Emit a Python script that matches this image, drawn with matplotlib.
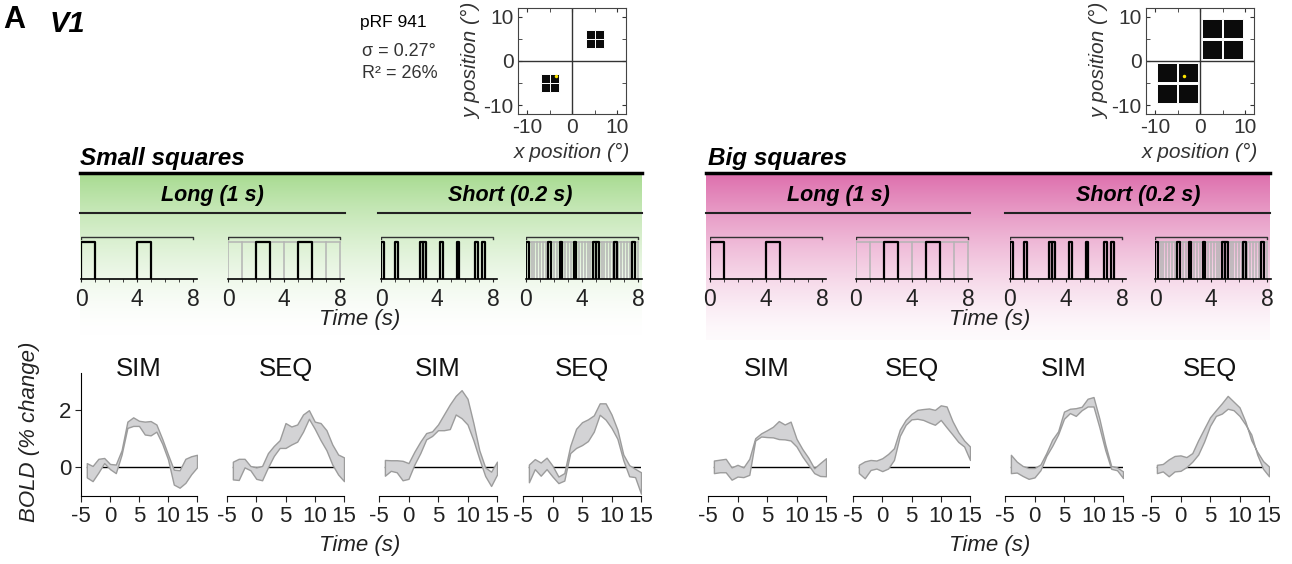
import numpy as np
import matplotlib
matplotlib.use("Agg")
import matplotlib.pyplot as plt
from matplotlib.patches import Rectangle

plt.rcParams['font.family'] = ['Liberation Sans', 'DejaVu Sans']
plt.rcParams['axes.unicode_minus'] = False

W, H = 1292, 564

# ---- data ----
# pRF / stimulus squares (deg)
small_sq_centers = [(4, 4), (6, 4), (4, 6), (6, 6), (-4, -4), (-6, -4), (-4, -6), (-6, -6)]
small_sq_size = 2.0
big_sq_centers = [(2.6, 2.6), (7.3, 2.6), (2.6, 7.3), (7.3, 7.3),
                  (-2.6, -2.6), (-7.3, -2.6), (-2.6, -7.3), (-7.3, -7.3)]
big_sq_size = 4.4
prf_center = (-3.5, -3.3)

# stimulus timing (s)
long_sim_on = [0, 4]
long_seq_on = [2, 5]
long_slots = [0, 1, 2, 3, 4, 5, 6, 7, 8]
short_sim_on = [0, 1.0, 2.8, 3.0, 4.2, 5.4, 6.7, 7.2]
short_seq_on = [0, 1.6, 2.4, 3.4, 4.8, 5.0, 6.3, 7.6]
short_slots = list(np.round(np.arange(0, 8.01, 0.2), 1))

# BOLD (% change), band upper / lower, t = -4..15 s
time = np.arange(-4, 16)
small_long_sim_hi = [0.15, 0.05, 0.3, 0.33, 0.12, 0.1, 0.6, 1.6, 1.75, 1.63, 1.6, 1.62, 1.5, 1.0, 0.45, -0.08, -0.1, 0.3, 0.39, 0.44]
small_long_sim_lo = [-0.35, -0.48, -0.18, 0.15, -0.06, -0.2, 0.45, 1.38, 1.45, 1.45, 1.15, 1.12, 1.25, 0.83, 0.28, -0.6, -0.71, -0.54, -0.24, 0.0]
small_long_seq_hi = [0.2, 0.3, 0.3, 0.05, 0.0, 0.05, 0.5, 0.75, 0.95, 1.55, 1.43, 1.5, 1.85, 2.0, 1.6, 1.55, 1.3, 0.8, 0.45, 0.35]
small_long_seq_lo = [-0.42, -0.44, 0.0, -0.1, -0.4, -0.45, 0.0, 0.4, 0.68, 0.68, 0.8, 0.9, 1.25, 1.7, 1.35, 0.95, 0.6, 0.1, -0.25, -0.48]
small_short_sim_hi = [0.26, 0.25, 0.25, 0.23, 0.15, 0.55, 0.9, 1.2, 1.26, 1.5, 1.85, 2.2, 2.5, 2.7, 2.4, 1.55, 0.6, 0.0, -0.15, 0.2]
small_short_sim_lo = [-0.29, -0.12, -0.17, -0.45, -0.4, 0.1, 0.5, 0.98, 1.1, 1.3, 1.3, 1.34, 1.85, 1.72, 1.5, 0.95, 0.3, -0.3, -0.65, -0.25]
small_short_seq_hi = [0.1, 0.29, 0.17, 0.34, 0.06, -0.32, -0.2, 0.75, 1.35, 1.58, 1.68, 1.82, 2.24, 2.24, 1.85, 1.32, 0.45, 0.08, -0.05, -0.17]
small_short_seq_lo = [-0.52, -0.06, -0.29, -0.06, -0.32, -0.55, -0.46, 0.5, 0.68, 0.78, 0.92, 1.25, 1.84, 1.67, 1.38, 1.0, 0.25, -0.31, -0.34, -0.92]
big_long_sim_hi = [0.24, 0.27, 0.3, 0.0, 0.09, 0.0, 0.3, 1.02, 1.19, 1.3, 1.42, 1.62, 1.5, 1.6, 1.0, 0.64, 0.34, -0.03, 0.15, 0.32]
big_long_sim_lo = [-0.2, -0.17, -0.17, -0.43, -0.32, -0.34, -0.26, 0.94, 1.08, 1.06, 1.05, 0.99, 0.98, 0.94, 0.73, 0.38, 0.09, -0.2, -0.3, -0.31]
big_long_seq_hi = [0.09, 0.21, 0.26, 0.24, 0.32, 0.47, 0.67, 1.32, 1.66, 1.87, 2.01, 2.04, 2.06, 2.01, 2.17, 2.13, 1.62, 1.23, 0.94, 0.73]
big_long_seq_lo = [-0.2, -0.38, -0.09, -0.04, -0.13, -0.04, 0.26, 1.1, 1.49, 1.68, 1.7, 1.66, 1.57, 1.49, 1.66, 1.4, 1.15, 0.89, 0.73, 0.26]
big_short_sim_hi = [0.44, 0.2, 0.05, -0.02, -0.02, 0.1, 0.5, 0.97, 1.26, 1.95, 2.05, 2.07, 2.12, 2.4, 2.46, 1.7, 0.8, 0.05, 0.0, -0.14]
big_short_sim_lo = [-0.2, -0.18, -0.3, -0.4, -0.35, -0.1, 0.4, 0.75, 1.15, 1.7, 1.9, 1.8, 2.0, 2.13, 2.13, 1.4, 0.6, -0.05, -0.1, -0.37]
big_short_seq_hi = [0.09, 0.12, 0.28, 0.4, 0.42, 0.36, 0.5, 0.95, 1.35, 1.75, 2.0, 2.24, 2.5, 2.3, 2.1, 1.6, 0.95, 0.55, 0.22, 0.03]
big_short_seq_lo = [-0.2, -0.14, -0.31, -0.14, -0.12, 0.01, 0.2, 0.45, 0.9, 1.45, 1.8, 1.88, 2.05, 2.0, 1.8, 1.5, 1.15, 0.45, -0.05, -0.31]

bold_titles = ['SIM', 'SEQ', 'SIM', 'SEQ']
bold_left = [(small_long_sim_hi, small_long_sim_lo), (small_long_seq_hi, small_long_seq_lo),
             (small_short_sim_hi, small_short_sim_lo), (small_short_seq_hi, small_short_seq_lo)]
bold_right = [(big_long_sim_hi, big_long_sim_lo), (big_long_seq_hi, big_long_seq_lo),
              (big_short_sim_hi, big_short_sim_lo), (big_short_seq_hi, big_short_seq_lo)]


def px_axes(x0, y0, x1, y1):
    return fig.add_axes([x0 / W, 1 - y1 / H, (x1 - x0) / W, (y1 - y0) / H])


fig = plt.figure(figsize=(W / 100, H / 100), dpi=100)

# overlay in pixel coords for headers, gradients and lines
ov = fig.add_axes([0, 0, 1, 1])
ov.axis('off')


def gradient(x0, x1, y0, y1, top, power, floor):
    t = np.linspace(0, 1, 200)[:, None]
    mix = floor + (1 - floor) * (1 - t) ** power
    rgb = np.ones((200, 1, 3)) * (1 - mix[..., None]) + np.array(top)[None, None, :] * mix[..., None]
    ov.imshow(rgb, extent=(x0, x1, y1, y0), aspect='auto', interpolation='bilinear', zorder=0)


gradient(80, 642, 174, 335, (0.66, 0.86, 0.57), 1.6, 0.0)
gradient(706, 1270, 174, 340, (0.87, 0.44, 0.68), 1.4, 0.03)
ov.set_xlim(0, W)
ov.set_ylim(H, 0)

ov.plot([80, 642], [173, 173], color='black', lw=2.5)
ov.plot([706, 1270], [173, 173], color='black', lw=2.5)
for xa, xb in [(80, 345), (378, 642), (706, 970), (1005, 1270)]:
    ov.plot([xa, xb], [213, 213], color='#222222', lw=1.5)

ov.text(3, 20, 'A', fontsize=22, fontweight='bold', va='center')
ov.text(50, 24, 'V1', fontsize=21, fontweight='bold', style='italic', va='center')
ov.text(80, 158, 'Small squares', fontsize=17.5, fontweight='bold', style='italic', va='center')
ov.text(708, 158, 'Big squares', fontsize=17.5, fontweight='bold', style='italic', va='center')
for xc, lab in [(212, 'Long (1 s)'), (510, 'Short (0.2 s)'), (838, 'Long (1 s)'), (1138, 'Short (0.2 s)')]:
    ov.text(xc, 195, lab, fontsize=15.5, fontweight='bold', style='italic', ha='center', va='center')
for xc in [360, 990]:
    ov.text(xc, 320, 'Time (s)', fontsize=16, style='italic', ha='center', va='center', color='#222222')
    ov.text(xc, 546, 'Time (s)', fontsize=16, style='italic', ha='center', va='center', color='#222222')
ov.text(30, 432, 'BOLD (% change)', fontsize=16, style='italic', rotation=90, ha='center', va='center', color='#222222')
ov.text(360, 22, 'pRF 941', fontsize=12.5, va='center')
ov.text(362, 52, 'σ = 0.27°', fontsize=13, va='center', color='#333333')
ov.text(362, 73, 'R² = 26%', fontsize=13, va='center', color='#333333')


# ---- pRF panels ----
def prf_panel(x0, centers, size):
    ax = px_axes(x0, 8, x0 + 108, 114)
    ax.set_xlim(-12, 12)
    ax.set_ylim(-12, 12)
    ax.axhline(0, color='#333333', lw=1)
    ax.axvline(0, color='#333333', lw=1)
    for cx, cy in centers:
        ax.add_patch(Rectangle((cx - size / 2, cy - size / 2), size, size,
                               facecolor='#0b0b0b', edgecolor='white', lw=0.7))
    ax.plot(prf_center[0], prf_center[1], 'o', ms=2.5, color='#ffe600', mec='none')
    ax.set_xticks([-10, 0, 10])
    ax.set_yticks([-10, 0, 10])
    ax.set_xticks([-5, 5], minor=True)
    ax.set_yticks([-5, 5], minor=True)
    ax.tick_params(which='both', direction='in', top=True, right=True, length=3, labelsize=15,
                   colors='#333333', pad=3)
    ax.set_xlabel('x position (°)', fontsize=15, style='italic', color='#333333', labelpad=4)
    ax.set_ylabel('y position (°)', fontsize=15, style='italic', color='#333333', labelpad=2)
    for s in ax.spines.values():
        s.set_color('#444444')


prf_panel(518, small_sq_centers, small_sq_size)
prf_panel(1146, big_sq_centers, big_sq_size)


# ---- stimulus timing panels ----
def stim_panel(x0, onsets, dur, slots=None):
    ax = px_axes(x0, 236, x0 + 117.6, 279)
    ax.set_facecolor('none')
    ax.set_xlim(0, 8.4)
    ax.set_ylim(0, 1.15)
    if slots is not None:
        for s in slots:
            ax.plot([s, s], [0, 1], color='#b4b4b4', lw=1.1)
        ax.plot([0, 8], [1, 1], color='#b4b4b4', lw=1.1)
    for t in onsets:
        ax.plot([t, t, t + dur, t + dur], [0, 1, 1, 0], color='black', lw=1.6)
    ax.plot([0, 0, 8, 8], [1.06, 1.11, 1.11, 1.06], color='#333333', lw=1)
    for s in ['top', 'right', 'left']:
        ax.spines[s].set_visible(False)
    ax.spines['bottom'].set_bounds(0, 8.3)
    ax.spines['bottom'].set_linewidth(1.2)
    ax.set_yticks([])
    ax.set_xticks([0, 4, 8])
    ax.set_xticks(range(9), minor=True)
    ax.tick_params(which='both', direction='out', length=2.5, labelsize=16.5, pad=4, colors='#222222')


for x0s in [[81, 228, 381, 526], [710, 856, 1010, 1155]]:
    stim_panel(x0s[0], long_sim_on, 1.0)
    stim_panel(x0s[1], long_seq_on, 1.0, long_slots)
    stim_panel(x0s[2], short_sim_on, 0.2)
    stim_panel(x0s[3], short_seq_on, 0.2, short_slots)

# ---- BOLD panels ----
bold_px_left = [(81, 197), (227, 344), (379, 497), (523, 641)]
bold_px_right = [(708, 826), (853, 970), (1005, 1123), (1151, 1269)]

first = True
for pxs, bands in [(bold_px_left, bold_left), (bold_px_right, bold_right)]:
    for (xa, xb), (hi, lo), title in zip(pxs, bands, bold_titles):
        ax = px_axes(xa, 373, xb, 496)
        ax.set_facecolor('none')
        ax.set_xlim(-5, 15)
        ax.set_ylim(-1, 3.3)
        ax.plot([time[0], time[-1]], [0, 0], color='black', lw=1, zorder=1)
        ax.fill_between(time, lo, hi, facecolor='#d3d3d5', edgecolor='#9c9c9c', lw=1, zorder=2)
        ax.spines['top'].set_visible(False)
        ax.spines['right'].set_visible(False)
        ax.spines['bottom'].set_bounds(-5, 15)
        ax.set_xticks([-5, 0, 5, 10, 15])
        ax.tick_params(direction='out', length=4, labelsize=16, pad=3, colors='#222222')
        if first:
            ax.set_yticks([0, 2])
            first = False
        else:
            ax.spines['left'].set_visible(False)
            ax.set_yticks([])
        ov.text((xa + xb) / 2, 369, title, fontsize=18.5, ha='center', va='center', color='#111111')

fig.savefig('out.png', dpi=100)
